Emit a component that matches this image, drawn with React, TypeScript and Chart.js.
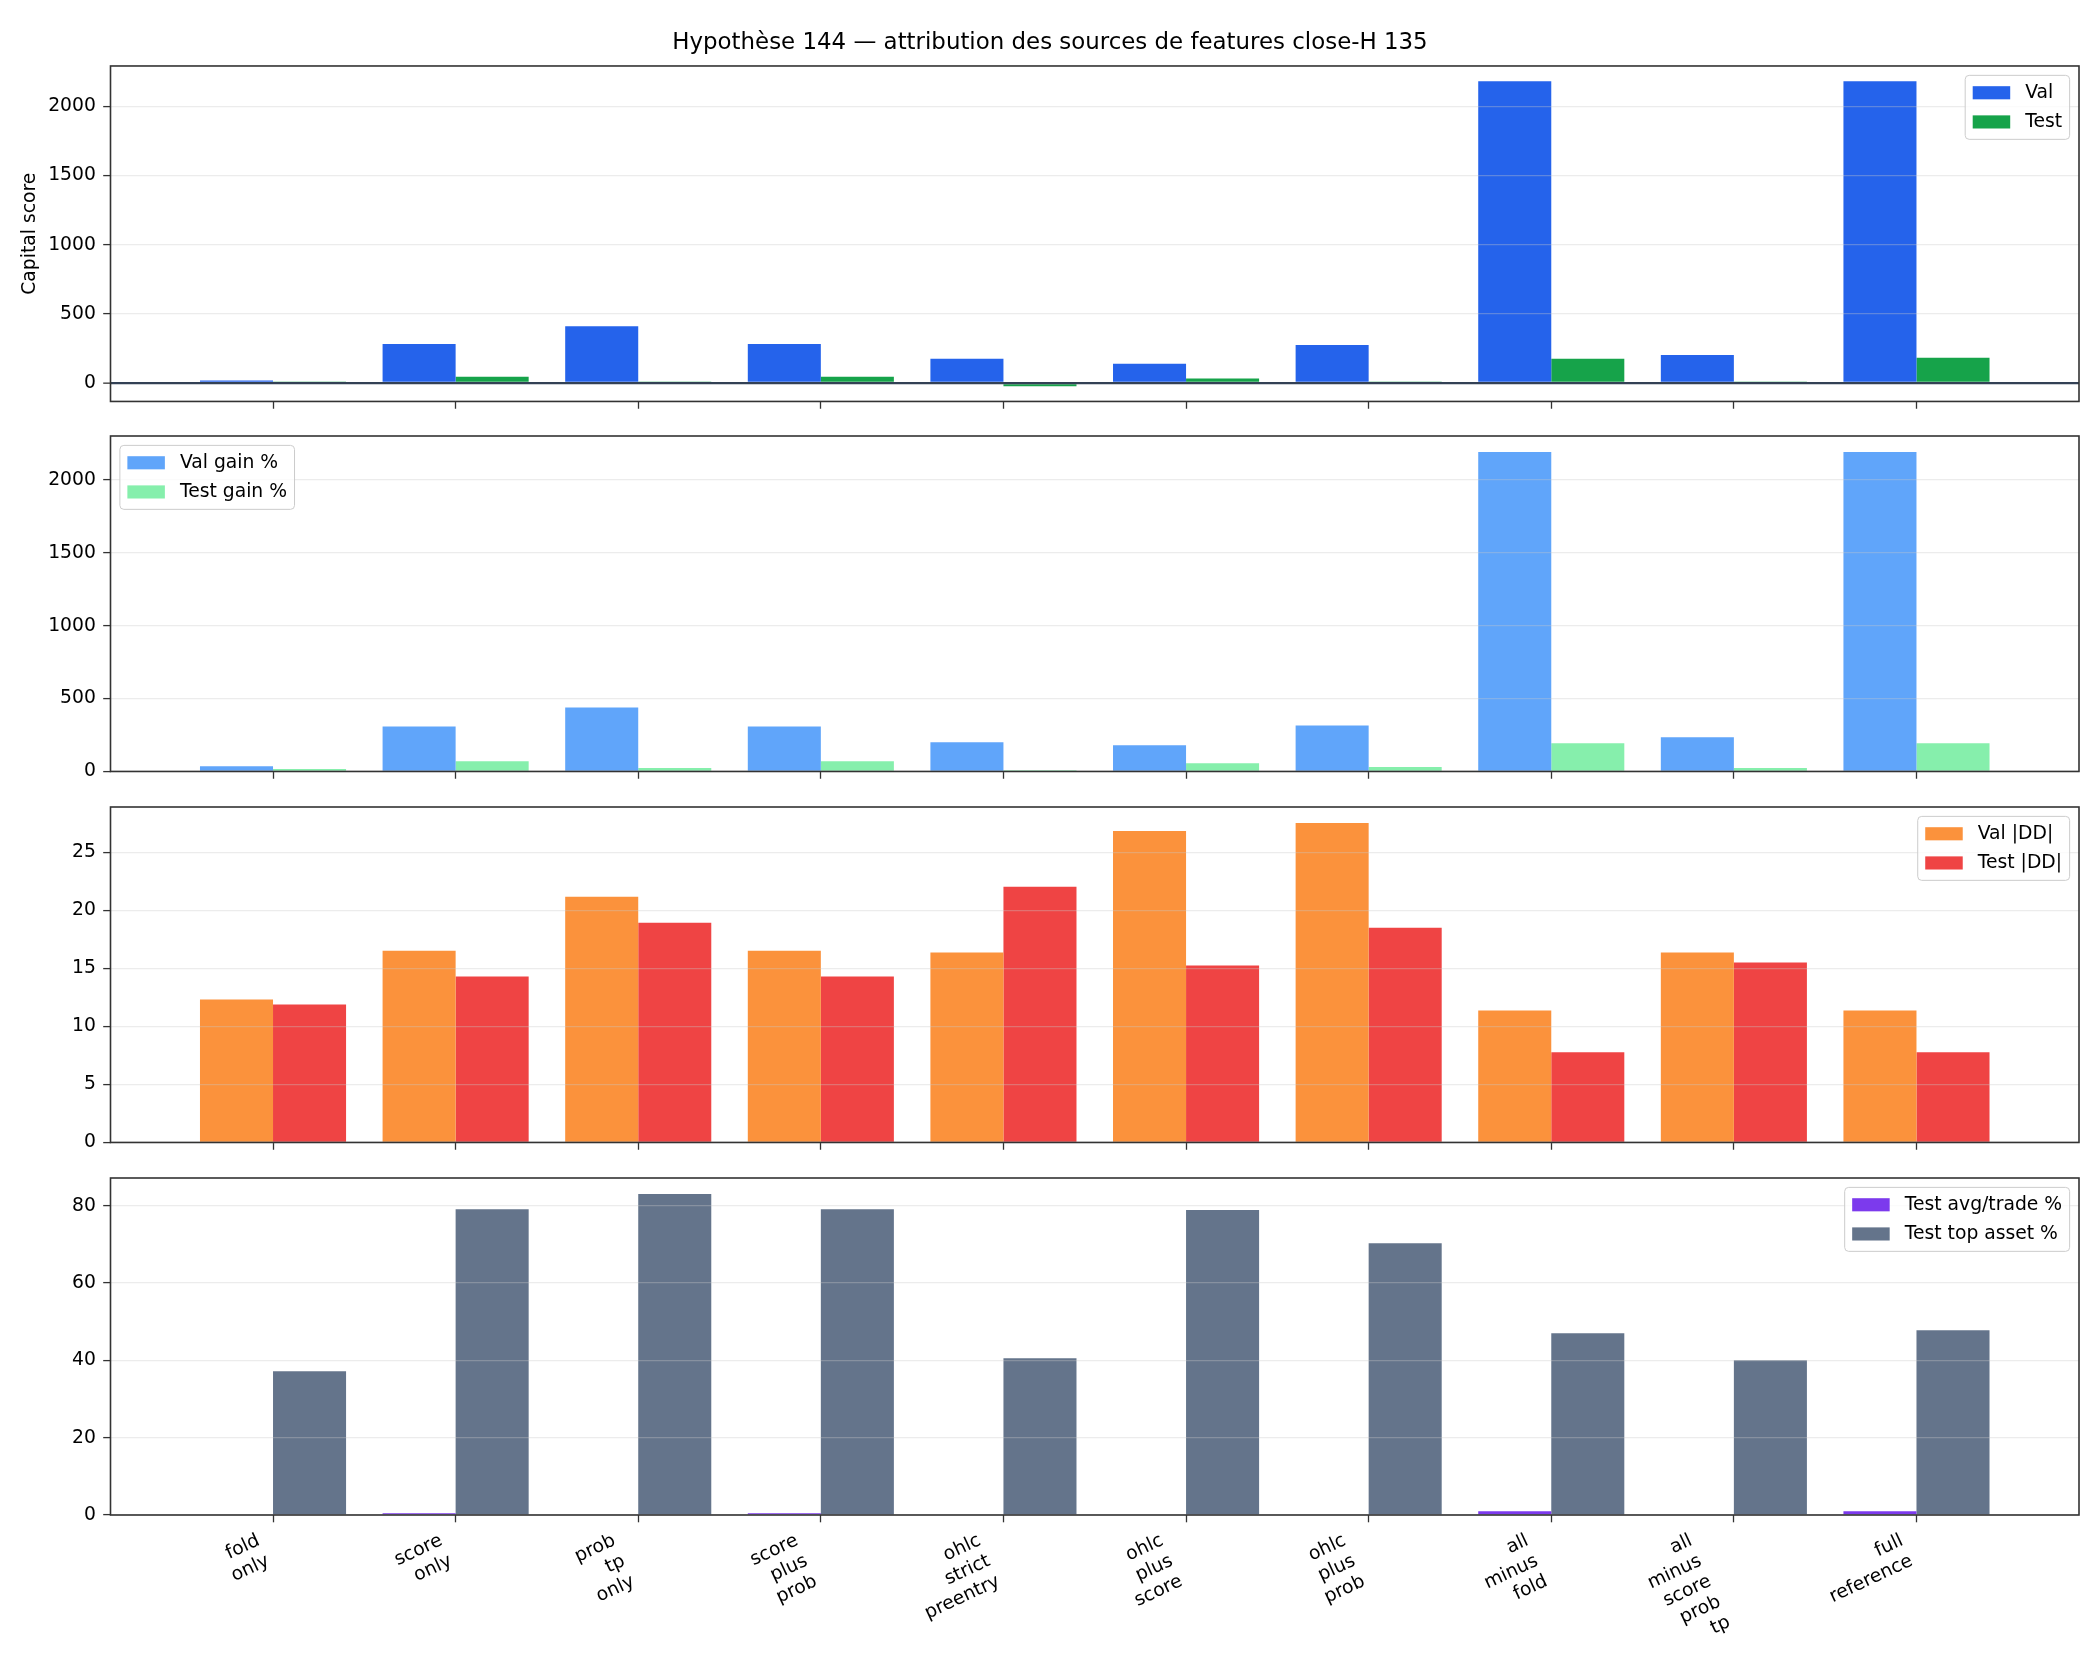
import React, { useEffect, useRef } from 'react'
import { Chart, registerables } from 'chart.js'

Chart.register(...registerables)

// feature-source variants, "_" marks a line break in the tick label
const categories = [
  'fold_only',
  'score_only',
  'prob_tp_only',
  'score_plus_prob',
  'ohlc_strict_preentry',
  'ohlc_plus_score',
  'ohlc_plus_prob',
  'all_minus_fold',
  'all_minus_score_prob_tp',
  'full_reference',
]

const capitalVal = [18, 282, 411, 282, 175, 140, 275, 2182, 203, 2182]
const capitalTest = [2, 46, 3, 46, -23, 32, 1, 176, 2, 183]

const gainVal = [36, 309, 438, 309, 200, 180, 315, 2191, 234, 2191]
const gainTest = [16, 70, 23, 70, 9, 57, 30, 193, 23, 193]

const ddVal = [12.33, 16.54, 21.19, 16.54, 16.37, 26.86, 27.55, 11.38, 16.37, 11.38]
const ddTest = [11.9, 14.31, 18.95, 14.31, 22.05, 15.25, 18.52, 7.77, 15.51, 7.77]

const avgTrade = [0, 0.43, 0.12, 0.43, 0, 0.12, 0.12, 0.95, 0.12, 0.95]
const topAsset = [37.2, 79.1, 83.0, 79.1, 40.55, 78.9, 70.3, 47.0, 40.0, 47.8]

const yTicks1 = [0, 500, 1000, 1500, 2000]
const yTicks2 = [0, 500, 1000, 1500, 2000]
const yTicks3 = [0, 5, 10, 15, 20, 25]
const yTicks4 = [0, 20, 40, 60, 80]

const TITLE = 'Hypothèse 144 — attribution des sources de features close-H 135'

const FONT = '"DejaVu Sans", sans-serif'
const TICK_SIZE = 18.75
const TITLE_SIZE = 22.9
const EDGE = '#333333'
const GRID = 'rgba(200,200,200,0.35)'
const W = 2100
const PAD_SIDE = 10
const Y_AXIS_W = 100.5
const RIGHT_GAP = 11
const X_AXIS_H = 17
const AREA_H = 337

interface Series {
  label: string
  color: string
  values: number[]
}

interface PanelSpec {
  top: number
  height: number
  padTop: number
  padBottom: number
  series: Series[]
  yTicks: number[]
  legend: 'left' | 'right'
  yTitle?: string
  title?: string
  zeroLine?: boolean
  xLabels?: boolean
}

const panels: PanelSpec[] = [
  {
    top: 0, height: 420, padTop: 0, padBottom: 0,
    series: [
      { label: 'Val', color: '#2563eb', values: capitalVal },
      { label: 'Test', color: '#16a34a', values: capitalTest },
    ],
    yTicks: yTicks1, legend: 'right', yTitle: 'Capital score', title: TITLE, zeroLine: true,
  },
  {
    top: 416, height: 374, padTop: 20, padBottom: 0,
    series: [
      { label: 'Val gain %', color: '#60a5fa', values: gainVal },
      { label: 'Test gain %', color: '#86efac', values: gainTest },
    ],
    yTicks: yTicks2, legend: 'left',
  },
  {
    top: 787, height: 374, padTop: 20, padBottom: 0,
    series: [
      { label: 'Val |DD|', color: '#fb923c', values: ddVal },
      { label: 'Test |DD|', color: '#ef4444', values: ddTest },
    ],
    yTicks: yTicks3, legend: 'right',
  },
  {
    top: 1158, height: 522, padTop: 20, padBottom: 148,
    series: [
      { label: 'Test avg/trade %', color: '#7c3aed', values: avgTrade },
      { label: 'Test top asset %', color: '#64748b', values: topAsset },
    ],
    yTicks: yTicks4, legend: 'right', xLabels: true,
  },
]

// matplotlib-like autoscale: 5% margin, bars stick to zero
function yRange(series: Series[]) {
  const all = series.flatMap((s) => s.values)
  const lo = Math.min(0, ...all)
  const hi = Math.max(0, ...all)
  const pad = (hi - lo) * 0.05
  return { min: lo < 0 ? lo - pad : 0, max: hi + pad }
}

const n = categories.length
const xPad = (n - 1 + 0.8) * 0.05
const xMin = -0.4 - xPad
const xMax = n - 1 + 0.4 + xPad

const framePlugin = {
  id: 'frame',
  afterDraw(chart: Chart) {
    const { ctx, chartArea } = chart
    ctx.save()
    ctx.strokeStyle = EDGE
    ctx.lineWidth = 1.6
    ctx.strokeRect(chartArea.left, chartArea.top, chartArea.right - chartArea.left, chartArea.bottom - chartArea.top)
    ctx.restore()
  },
}

const innerLegend = {
  id: 'innerLegend',
  afterDraw(chart: Chart, _args: any, opts: any) {
    if (!opts || !opts.corner) return
    const { ctx, chartArea } = chart
    const fs = TICK_SIZE
    const pad = 0.4 * fs
    const handleW = 2 * fs
    const handleH = 0.7 * fs
    const gap = 0.8 * fs
    const rowH = 19.8
    const spacing = 0.5 * fs
    const inset = 0.5 * fs
    ctx.save()
    ctx.font = `${fs}px ${FONT}`
    const items = chart.data.datasets.map((d: any) => ({ label: d.label as string, color: d.backgroundColor as string }))
    const textW = Math.max(...items.map((it) => ctx.measureText(it.label).width))
    const w = pad * 2 + handleW + gap + textW
    const h = pad * 2 + items.length * rowH + (items.length - 1) * spacing
    const x = opts.corner === 'right' ? chartArea.right - inset - w : chartArea.left + inset
    const y = chartArea.top + inset
    ctx.beginPath()
    ctx.roundRect(x, y, w, h, 4)
    ctx.fillStyle = 'rgba(255,255,255,0.8)'
    ctx.fill()
    ctx.strokeStyle = '#cccccc'
    ctx.lineWidth = 1
    ctx.stroke()
    items.forEach((it, i) => {
      const cy = y + pad + i * (rowH + spacing) + rowH / 2
      ctx.fillStyle = it.color
      ctx.fillRect(x + pad, cy - handleH / 2, handleW, handleH)
      ctx.fillStyle = '#000'
      ctx.textAlign = 'left'
      ctx.textBaseline = 'middle'
      ctx.fillText(it.label, x + pad + handleW + gap, cy)
    })
    ctx.restore()
  },
}

// rotated multi-line tick labels, anchored like matplotlib ha="right"
const xLabelPlugin = {
  id: 'xLabels',
  afterDraw(chart: Chart, _args: any, opts: any) {
    if (!opts || !opts.show) return
    const { ctx, chartArea } = chart
    const xs = chart.scales.x
    const th = (25 * Math.PI) / 180
    const lh = TICK_SIZE * 1.2
    const top = chartArea.bottom + 14.6
    ctx.save()
    ctx.font = `${TICK_SIZE}px ${FONT}`
    ctx.fillStyle = '#000'
    categories.forEach((name, i) => {
      const lines = name.split('_')
      const bw = Math.max(...lines.map((l) => ctx.measureText(l).width))
      const bh = lines.length * lh
      const pts = [[0, 0], [bw, 0], [0, bh], [bw, bh]].map(([px, py]) => [
        px * Math.cos(th) + py * Math.sin(th),
        -px * Math.sin(th) + py * Math.cos(th),
      ])
      const maxX = Math.max(...pts.map((p) => p[0]))
      const minY = Math.min(...pts.map((p) => p[1]))
      const tickX = xs.getPixelForValue(i)
      ctx.save()
      ctx.translate(tickX - maxX, top - minY)
      ctx.rotate(-th)
      ctx.textAlign = 'right'
      ctx.textBaseline = 'middle'
      lines.forEach((l, j) => ctx.fillText(l, bw, j * lh + lh / 2))
      ctx.restore()
    })
    ctx.restore()
  },
}

function buildConfig(spec: PanelSpec): any {
  const range = yRange(spec.series)
  return {
    type: 'bar',
    data: {
      datasets: spec.series.map((s) => ({
        label: s.label,
        data: s.values.map((v, i) => ({ x: i, y: v })),
        backgroundColor: s.color,
        borderWidth: 0,
        categoryPercentage: 0.8,
        barPercentage: 1.0,
      })),
    },
    plugins: [framePlugin, innerLegend, xLabelPlugin],
    options: {
      responsive: false,
      animation: false,
      devicePixelRatio: 1,
      layout: {
        autoPadding: false,
        padding: { left: PAD_SIDE, right: PAD_SIDE, top: spec.padTop, bottom: spec.padBottom },
      },
      plugins: {
        legend: { display: false },
        tooltip: { enabled: false },
        title: {
          display: !!spec.title,
          text: spec.title || '',
          color: '#000',
          font: { family: FONT, size: TITLE_SIZE, weight: 'normal' },
          padding: { top: 29, bottom: 9.5 },
        },
        innerLegend: { corner: spec.legend },
        xLabels: { show: !!spec.xLabels },
      },
      scales: {
        x: {
          type: 'linear',
          min: xMin,
          max: xMax,
          offset: false,
          afterBuildTicks: (scale: any) => {
            scale.ticks = categories.map((_, i) => ({ value: i }))
          },
          afterFit: (scale: any) => {
            scale.height = X_AXIS_H
          },
          ticks: { display: false },
          border: { display: false },
          grid: {
            offset: false,
            drawOnChartArea: false,
            drawTicks: true,
            tickLength: 7.3,
            tickWidth: 1.3,
            tickColor: EDGE,
          },
        },
        y: {
          type: 'linear',
          min: range.min,
          max: range.max,
          afterBuildTicks: (scale: any) => {
            scale.ticks = spec.yTicks.map((v) => ({ value: v }))
          },
          afterFit: (scale: any) => {
            scale.width = Y_AXIS_W
          },
          border: { display: false },
          title: {
            display: !!spec.yTitle,
            text: spec.yTitle || '',
            color: '#000',
            font: { family: FONT, size: TICK_SIZE },
            padding: { top: 8.5, bottom: 0 },
          },
          ticks: {
            color: '#000',
            font: { family: FONT, size: TICK_SIZE },
            padding: 7.3,
            callback: (v: number) => String(v),
          },
          grid: {
            z: 1,
            color: (c: any) => (spec.zeroLine && c.tick && c.tick.value === 0 ? '#334155' : GRID),
            lineWidth: (c: any) => (spec.zeroLine && c.tick && c.tick.value === 0 ? 2.3 : 1.2),
            drawTicks: true,
            tickLength: 7.3,
            tickWidth: 1.3,
            tickColor: EDGE,
          },
        },
        // empty spacer on the right so the suptitle stays centred on the figure
        gap: {
          type: 'linear',
          position: 'right',
          afterFit: (scale: any) => {
            scale.width = RIGHT_GAP
          },
          ticks: { display: false },
          grid: { display: false, drawTicks: false },
          border: { display: false },
        },
      },
    },
  }
}

const Panel = ({ spec }: { spec: PanelSpec }) => {
  const canvasRef = useRef<HTMLCanvasElement>(null)

  useEffect(() => {
    if (!canvasRef.current) return
    const chart = new Chart(canvasRef.current, buildConfig(spec))
    return () => chart.destroy()
  }, [spec])

  return (
    <div style={{ position: 'absolute', left: 0, top: spec.top, width: W, height: spec.height }}>
      <canvas ref={canvasRef} width={W} height={spec.height} style={{ width: W, height: spec.height, display: 'block' }} />
    </div>
  )
}

export default function App() {
  return (
    <div style={{ position: 'absolute', left: 0, top: 0, width: W, height: 1680, background: '#fff' }}>
      {panels.map((p, i) => (
        <Panel key={i} spec={p} />
      ))}
    </div>
  )
}
